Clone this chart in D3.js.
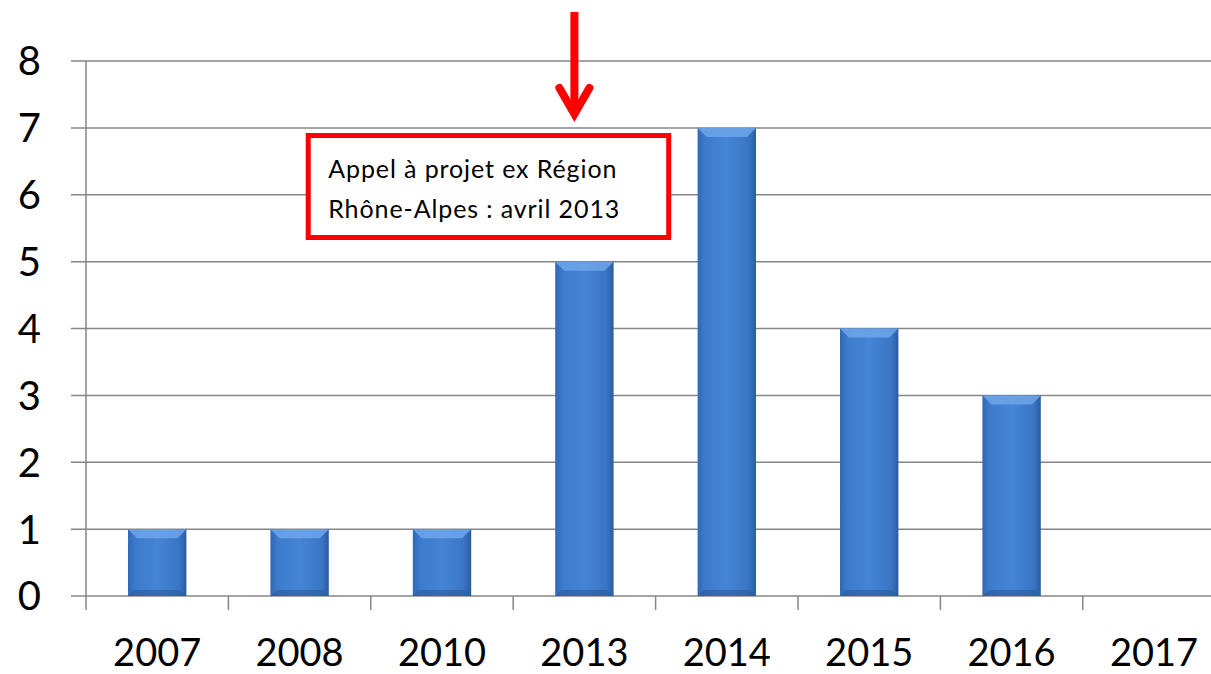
<!DOCTYPE html>
<html>
<head>
<meta charset="utf-8">
<script src="https://cdn.jsdelivr.net/npm/d3@7"></script>
<style>
  body { margin: 0; background: #fff; }
  svg { display: block; }
  text { font-family: Lato, "Open Sans", sans-serif; fill: #000; }
</style>
</head>
<body>
<div id="chart"></div>
<script>
// data
const years = ['2007', '2008', '2010', '2013', '2014', '2015', '2016', '2017']
const counts = [1, 1, 1, 5, 7, 4, 3, 0]
const yTicks = [0, 1, 2, 3, 4, 5, 6, 7, 8]
const noteLines = ['Appel à projet ex Région', 'Rhône-Alpes : avril 2013']
const noteYear = '2013'

const width = 1211,
      height = 674,
      marginLeft = 86,
      plotTop = 61,
      plotBottom = 596,
      band = 142.4

let svg = d3.select('#chart')
  .append('svg')
  .attr('width', width)
  .attr('height', height)

let defs = svg.append('defs')
let grad = defs.append('linearGradient')
  .attr('id', 'barGrad')
  .attr('x1', 0).attr('x2', 1).attr('y1', 0).attr('y2', 0)
grad.append('stop').attr('offset', '0%').attr('stop-color', '#2f68b5')
grad.append('stop').attr('offset', '12%').attr('stop-color', '#3d7acb')
grad.append('stop').attr('offset', '50%').attr('stop-color', '#4585d6')
grad.append('stop').attr('offset', '88%').attr('stop-color', '#3a75c4')
grad.append('stop').attr('offset', '100%').attr('stop-color', '#2a5c9f')

let x = d3.scaleBand()
  .domain(years)
  .range([marginLeft, marginLeft + band * years.length])
  .paddingInner(0.59)
  .paddingOuter(0.295)

let y = d3.scaleLinear()
  .domain([0, 8])
  .range([plotBottom, plotTop])

// gridlines
svg.append('g')
  .selectAll('line')
  .data(yTicks)
  .enter()
  .append('line')
  .attr('x1', marginLeft - 15)
  .attr('x2', marginLeft + band * years.length)
  .attr('y1', d => y(d))
  .attr('y2', d => y(d))
  .attr('stroke', '#868686')
  .attr('stroke-width', 1.5)

// y axis line
svg.append('line')
  .attr('x1', marginLeft).attr('x2', marginLeft)
  .attr('y1', y(8)).attr('y2', plotBottom + 14)
  .attr('stroke', '#868686')
  .attr('stroke-width', 1.5)

// x ticks between categories
svg.append('g')
  .selectAll('line')
  .data(years.slice(1))
  .enter()
  .append('line')
  .attr('x1', d => x(d) - x.step() * x.paddingInner() / 2)
  .attr('x2', d => x(d) - x.step() * x.paddingInner() / 2)
  .attr('y1', plotBottom)
  .attr('y2', plotBottom + 14)
  .attr('stroke', '#868686')
  .attr('stroke-width', 1.5)

// y labels
svg.append('g')
  .selectAll('text')
  .data(yTicks)
  .enter()
  .append('text')
  .attr('x', 41)
  .attr('y', d => y(d))
  .attr('dy', '0.36em')
  .attr('text-anchor', 'end')
  .style('font-size', '40px')
  .text(d => d)

// x labels
svg.append('g')
  .selectAll('text')
  .data(years)
  .enter()
  .append('text')
  .attr('x', d => x(d) + x.bandwidth() / 2)
  .attr('y', 666)
  .attr('text-anchor', 'middle')
  .style('font-size', '38px')
  .text(d => d)

// bars
let bars = svg.append('g')
  .selectAll('g')
  .data(years.map((d, i) => ({ year: d, value: counts[i] })).filter(d => d.value > 0))
  .enter()
  .append('g')

bars.append('rect')
  .attr('x', d => x(d.year))
  .attr('y', d => y(d.value))
  .attr('width', x.bandwidth())
  .attr('height', d => y(0) - y(d.value))
  .attr('fill', 'url(#barGrad)')

// top bevel
bars.append('path')
  .attr('d', d => {
    let x0 = x(d.year), x1 = x0 + x.bandwidth(), t = y(d.value), b = 9
    return `M${x0},${t}L${x1},${t}L${x1 - b},${t + b}L${x0 + b},${t + b}Z`
  })
  .attr('fill', '#6fa6ea')
  .attr('opacity', 0.85)

// bottom bevel
bars.append('path')
  .attr('d', d => {
    let x0 = x(d.year), x1 = x0 + x.bandwidth(), b0 = y(0), b = 6
    return `M${x0},${b0}L${x1},${b0}L${x1 - b},${b0 - b}L${x0 + b},${b0 - b}Z`
  })
  .attr('fill', '#2a5a9c')
  .attr('opacity', 0.6)

// annotation: arrow and box
let ax = x(noteYear) + x.bandwidth() / 2 - 10

svg.append('line')
  .attr('x1', ax).attr('x2', ax)
  .attr('y1', 12).attr('y2', 112)
  .attr('stroke', '#ff0000')
  .attr('stroke-width', 8)

svg.append('path')
  .attr('d', `M${ax - 15},${88}L${ax},${114}L${ax + 15},${88}`)
  .attr('fill', 'none')
  .attr('stroke', '#ff0000')
  .attr('stroke-width', 8)
  .attr('stroke-linecap', 'round')
  .attr('stroke-linejoin', 'miter')

let boxX = x(noteYear) - 247
svg.append('rect')
  .attr('x', boxX)
  .attr('y', 135.5)
  .attr('width', 360.5)
  .attr('height', 102)
  .attr('fill', '#fff')
  .attr('stroke', '#ff0000')
  .attr('stroke-width', 5)

svg.append('g')
  .selectAll('text')
  .data(noteLines)
  .enter()
  .append('text')
  .attr('x', boxX + 20)
  .attr('y', (d, i) => 178 + i * 40)
  .style('font-size', '25px')
  .style('letter-spacing', '0.9px')
  .text(d => d)
</script>
</body>
</html>
